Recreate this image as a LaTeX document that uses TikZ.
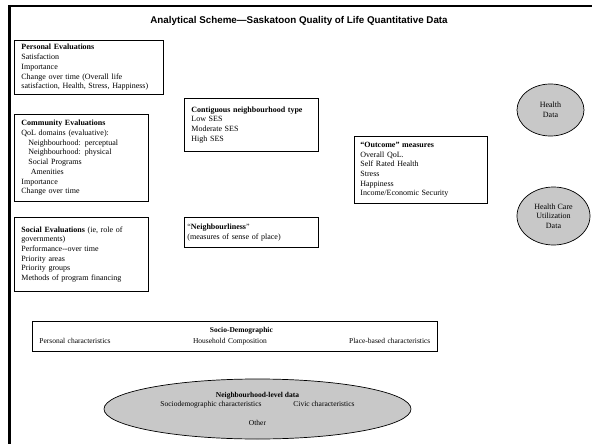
\documentclass[tikz,border=0pt]{standalone}
\usepackage{fontspec}
\setmainfont{Liberation Serif}
\newfontfamily\titlefont{Liberation Sans}
\usetikzlibrary{shapes.geometric}
\definecolor{ovalgray}{RGB}{200,200,200}
\begin{document}
\begin{tikzpicture}[x=1pt,y=-1pt,
  box/.style={draw=black, line width=0.8pt, anchor=north west, align=left, inner xsep=7pt, inner ysep=0pt, font=\fontsize{8}{9.7}\selectfont},
  oval/.style={ellipse, draw=black, line width=0.7pt, fill=ovalgray, inner sep=0pt, align=center, font=\fontsize{8}{9.5}\selectfont}]
\useasboundingbox (0,0) rectangle (592,444);
\fill[white] (0,0) rectangle (592,444);
\coordinate (fbl) at (9.3,447);
\coordinate (ftl) at (9.3,6);
\coordinate (ftr) at (595,6);
\draw[line width=2.7pt] (fbl) -- (ftl) -- (ftr);
\node[font=\titlefont\bfseries\fontsize{9.8}{12}\selectfont, inner sep=0pt] (title) at (299,20.5) {Analytical Scheme—Saskatoon Quality of Life Quantitative Data};

\node[box, text width=134.7pt, minimum height=54pt] (personal) at (14,40)
 {\textbf{Personal Evaluations}\\Satisfaction\\Importance\\Change over time (Overall life\\satisfaction, Health, Stress, Happiness)};

\node[box, text width=120pt, minimum height=87pt] (community) at (14,114)
 {\textbf{Community Evaluations}\\QoL domains (evaluative):\\\hspace*{7pt}Neighbourhood: perceptual\\\hspace*{7pt}Neighbourhood: physical\\\hspace*{7pt}Social Programs\\\hspace*{9.5pt}Amenities\\Importance\\Change over time};

\node[box, text width=120pt, minimum height=74pt] (social) at (14,217)
 {\textbf{Social Evaluations} (ie, role of\\governments)\\Performance-{}-over time\\Priority areas\\Priority groups\\Methods of program financing};

\node[box, text width=120pt, minimum height=53pt, yshift=0pt] (contig) at (184,98)
 {\textbf{Contiguous neighbourhood type}\\Low SES\\Moderate SES\\High SES\\[2pt]};

\node[box, inner xsep=3pt, text width=128pt, minimum height=30pt] (neighbourly) at (184,217)
 {“\textbf{Neighbourliness}”\\(measures of sense of place)\\[2pt]};

\node[box, inner xsep=6pt, text width=121pt, minimum height=67pt] (outcome) at (354,136)
 {\textbf{“Outcome” measures}\\Overall QoL.\\Self Rated Health\\Stress\\Happiness\\Income/Economic Security};

\node[oval, minimum width=67pt, minimum height=52pt] (health) at (550.5,110)
 {Health\\Data};

\node[oval, minimum width=73pt, minimum height=58pt] (hcu) at (553.5,216)
 {Health Care\\Utilization\\Data};

\node[box, font=\fontsize{7.5}{10.5}\selectfont, text width=391pt, minimum height=30pt] (socio) at (32,321)
 {\makebox[391pt]{\hspace*{13pt}\textbf{Socio-Demographic}}\\Personal characteristics\hfill Household Composition\hfill Place-based characteristics};

\node[oval, font=\fontsize{7.5}{9.4}\selectfont, minimum width=307pt, minimum height=60pt] (nld) at (257.5,409)
 {\textbf{Neighbourhood-level data}\\Sociodemographic characteristics\hspace{32pt}Civic characteristics\hspace*{20pt}\\[9.4pt]Other};
\end{tikzpicture}
\end{document}
